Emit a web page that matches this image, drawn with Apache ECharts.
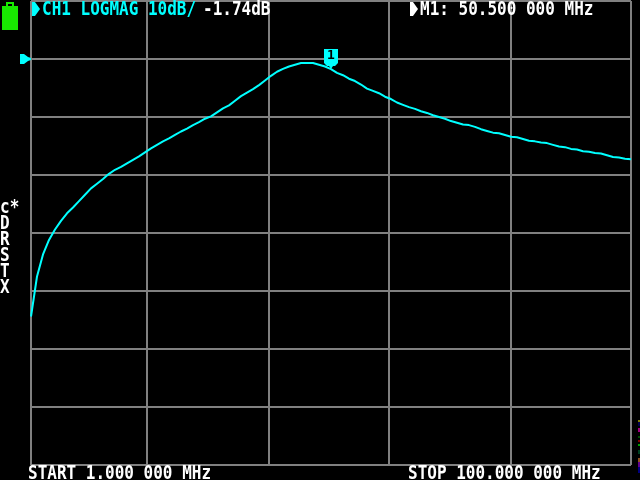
<!DOCTYPE html>
<html>
<head>
<meta charset="utf-8">
<style>html,body{margin:0;padding:0;background:#000}#c{width:640px;height:480px}</style>
<script src="https://cdn.jsdelivr.net/npm/echarts@6/dist/echarts.min.js"></script>
</head>
<body>
<div id="c"></div>
<script>
const freqMHz = [1,1.99,2.98,3.97,4.96,5.95,6.94,7.93,8.92,9.91,10.9,11.89,12.88,13.87,14.86,15.85,16.84,17.83,18.82,19.81,20.8,21.79,22.78,23.77,24.76,25.75,26.74,27.73,28.72,29.71,30.7,31.69,32.68,33.67,34.66,35.65,36.64,37.63,38.62,39.61,40.6,41.59,42.58,43.57,44.56,45.55,46.54,47.53,48.52,49.51,50.5,51.49,52.48,53.47,54.46,55.45,56.44,57.43,58.42,59.41,60.4,61.39,62.38,63.37,64.36,65.35,66.34,67.33,68.32,69.31,70.3,71.29,72.28,73.27,74.26,75.25,76.24,77.23,78.22,79.21,80.2,81.19,82.18,83.17,84.16,85.15,86.14,87.13,88.12,89.11,90.1,91.09,92.08,93.07,94.06,95.05,96.04,97.03,98.02,99.01,100];
const logMagDb = [-44.4,-37.5,-33.7,-31.2,-29.4,-27.9,-26.6,-25.6,-24.5,-23.4,-22.3,-21.5,-20.7,-19.8,-19.1,-18.6,-18.0,-17.4,-16.8,-16.1,-15.4,-14.8,-14.2,-13.7,-13.1,-12.5,-12.0,-11.4,-10.9,-10.3,-9.9,-9.2,-8.5,-8.0,-7.2,-6.4,-5.8,-5.2,-4.5,-3.7,-2.9,-2.2,-1.7,-1.3,-1.0,-0.7,-0.7,-0.7,-1.0,-1.3,-1.74,-2.4,-2.8,-3.4,-3.8,-4.4,-5.1,-5.5,-5.9,-6.5,-6.9,-7.5,-7.9,-8.3,-8.6,-9.0,-9.3,-9.7,-10.0,-10.3,-10.7,-11.0,-11.3,-11.4,-11.7,-12.1,-12.4,-12.7,-12.8,-13.1,-13.4,-13.5,-13.8,-14.1,-14.2,-14.4,-14.5,-14.8,-15.1,-15.2,-15.5,-15.6,-15.9,-16.0,-16.2,-16.3,-16.6,-16.9,-17.0,-17.2,-17.3];
const xGridMHz = [1,20.1,40.2,60.1,80.2,100];
const markerFreq = 50.5;
const markerDb = -1.74;
const headerLeft = "CH1 LOGMAG 10dB/";
const headerValue = "-1.74dB";
const headerMarker = "M1: 50.500 000 MHz";
const footerStart = "START 1.000 000 MHz";
const footerStop = "STOP 100.000 000 MHz";
const sideLabels = ["c*","D","R","S","T","X"];
const noise = [["#808000",420,2],["#000050",422,4],["#a00080",428,4],["#005000",436,2],["#800000",440,2],["#00a000",444,2],["#004020",450,4],["#905020",458,4],["#600090",462,5],["#000080",467,6]];

const CYAN = "#00ffff", GRAY = "#808080", WHITE = "#ffffff";
const FONT = '"DejaVu Sans Mono"';
function txt(s, x, y, fill){
  return {type:'text', x:x, y:y, scaleY:1.2, z:10, silent:true,
    style:{text:s, fill:fill, font:'bold 16px '+FONT, textVerticalAlign:'top'}};
}
const graphics = [
  txt(headerLeft, 42, 0, CYAN),
  txt(headerValue, 203, 0, WHITE),
  txt(headerMarker, 420, 0, WHITE),
  txt(footerStart, 28, 464, WHITE),
  txt(footerStop, 408, 464, WHITE),
  {type:'polygon', z:10, shape:{points:[[32,2],[35,2],[40,9],[35,16],[32,16]]}, style:{fill:CYAN}},
  {type:'polygon', z:10, shape:{points:[[410,2],[413,2],[418,9],[413,16],[410,16]]}, style:{fill:WHITE}},
  {type:'rect', shape:{x:2,y:6,width:16,height:24}, style:{fill:'#18e800'}},
  {type:'rect', shape:{x:6,y:2,width:8,height:4}, style:{fill:'#18e800'}},
  {type:'rect', shape:{x:8,y:4,width:4,height:2}, style:{fill:'#000'}},
  {type:'polygon', z:10, shape:{points:[[20,54],[24,54],[28,57],[31,58],[31,60],[28,61],[24,64],[20,64]]}, style:{fill:CYAN}}
];
sideLabels.forEach((s,i)=>graphics.push(txt(s, 0, 198+i*16, WHITE)));
noise.forEach(n=>graphics.push({type:'rect', shape:{x:638,y:n[1],width:2,height:n[2]}, style:{fill:n[0]}}));

const chart = echarts.init(document.getElementById('c'), null, {renderer:'canvas'});
chart.setOption({
  backgroundColor:'#000',
  animation:false,
  grid:{left:31, top:1, width:600, height:464, show:false},
  xAxis:{type:'value', min:1, max:100,
    axisLine:{show:false}, axisLabel:{show:false},
    axisTick:{show:false, customValues:xGridMHz},
    splitLine:{show:true, customValues:xGridMHz, lineStyle:{color:GRAY, width:2}}},
  yAxis:{type:'value', min:-70, max:10, interval:10,
    axisLine:{show:false}, axisLabel:{show:false}, axisTick:{show:false},
    splitLine:{show:true, lineStyle:{color:GRAY, width:2}}},
  series:[{type:'line', data:freqMHz.map((f,i)=>[f,logMagDb[i]]), showSymbol:false, z:5,
    lineStyle:{color:CYAN, width:2}, clip:false,
    markPoint:{silent:true, animation:false, data:[{coord:[markerFreq,markerDb],
      symbol:'path://M0 0H14V14L11 17H9L7 20L5 17H3L0 14Z', symbolSize:[14,20], symbolOffset:[0,-10], symbolKeepAspect:false,
      itemStyle:{color:CYAN},
      label:{show:true, formatter:'1', position:'inside', offset:[0,-3], color:'#000', fontFamily:FONT, fontSize:13, fontWeight:'bold'}}]}
  }],
  graphic:graphics
});
</script>
</body>
</html>
